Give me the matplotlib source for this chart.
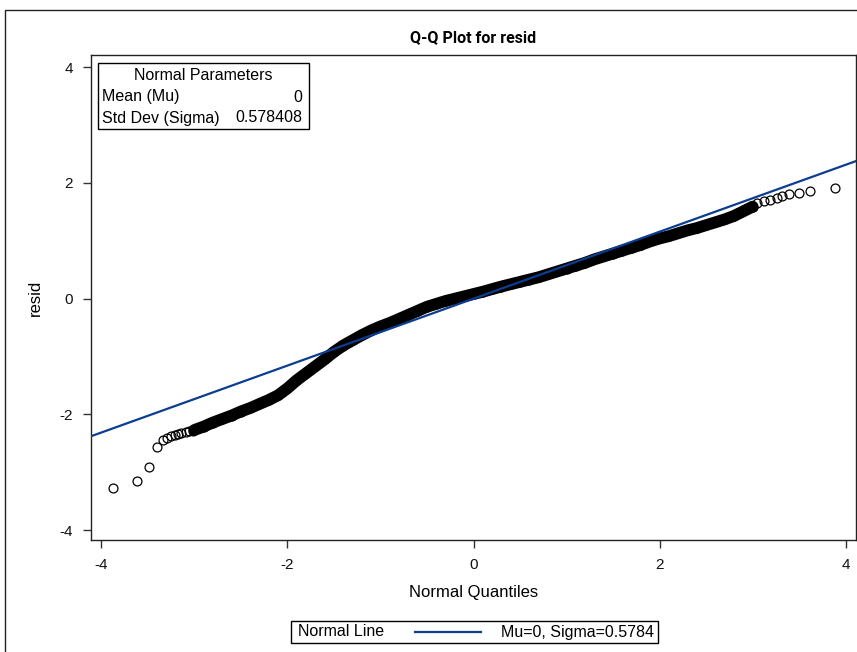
import matplotlib
matplotlib.use("Agg")
import matplotlib.pyplot as plt
from matplotlib.patches import Rectangle
from matplotlib.lines import Line2D

plt.rcParams['font.family'] = ['Liberation Sans', 'DejaVu Sans']

# ---------------- data ----------------
title = "Q-Q Plot for resid"
x_label = "Normal Quantiles"
y_label = "resid"
mu = 0
sigma = 0.578408
x_ticks = [-4, -2, 0, 2, 4]
y_ticks = [-4, -2, 0, 2, 4]

# sparse lower-tail points
lower_q = [-3.87, -3.62, -3.49, -3.40, -3.34, -3.29, -3.25, -3.21, -3.17, -3.14, -3.09, -3.06, -3.01]
lower_r = [-3.27, -3.15, -2.91, -2.56, -2.45, -2.40, -2.38, -2.36, -2.34, -2.32, -2.30, -2.29, -2.28]

# dense central band (normal quantile, residual)
band_q = [-3.0, -2.9, -2.8, -2.7, -2.6, -2.5, -2.4, -2.3, -2.2, -2.1,
          -2.0, -1.9, -1.8, -1.7, -1.6, -1.5, -1.4, -1.3, -1.2, -1.1,
          -1.0, -0.9, -0.8, -0.7, -0.6, -0.5, -0.4, -0.3, -0.2, -0.1,
          0.0, 0.1, 0.2, 0.3, 0.4, 0.5, 0.6, 0.7, 0.8, 0.9,
          1.0, 1.1, 1.2, 1.3, 1.4, 1.5, 1.6, 1.7, 1.8, 1.9,
          2.0, 2.1, 2.2, 2.3, 2.4, 2.5, 2.6, 2.7, 2.8, 2.9, 3.0]
band_r = [-2.27, -2.21, -2.14, -2.08, -2.02, -1.95, -1.89, -1.82, -1.75, -1.67,
          -1.55, -1.41, -1.29, -1.17, -1.05, -0.92, -0.81, -0.72, -0.63, -0.55,
          -0.48, -0.42, -0.35, -0.28, -0.21, -0.14, -0.09, -0.04, 0.00, 0.04,
          0.08, 0.12, 0.165, 0.21, 0.25, 0.29, 0.33, 0.37, 0.42, 0.47,
          0.52, 0.57, 0.62, 0.68, 0.73, 0.78, 0.83, 0.88, 0.93, 0.99,
          1.04, 1.08, 1.13, 1.18, 1.22, 1.27, 1.32, 1.37, 1.43, 1.51, 1.59]

# sparse upper-tail points
upper_q = [3.05, 3.12, 3.19, 3.26, 3.32, 3.39, 3.50, 3.62, 3.88]
upper_r = [1.65, 1.68, 1.71, 1.74, 1.78, 1.81, 1.82, 1.865, 1.91]

# ---------------- layout ----------------
W, H = 857, 652
fig = plt.figure(figsize=(W / 100, H / 100), dpi=100)

def fx(px):
    return px / W

def fy(py):
    return 1 - py / H

ax = fig.add_axes([fx(91), fy(540), fx(856) - fx(91), fy(55) - fy(540)])
ax.set_xlim(-4.11, 4.11)
ax.set_ylim(-4.17, 4.21)

line_color = '#0b3d91'
ax.axline((0, mu), slope=sigma, color=line_color, lw=1.6, zorder=3)

mk = dict(marker='o', mfc='none', mec='black', ms=6.4, mew=0.9, ls='none', zorder=2)
ax.plot(band_q, band_r, color='black', lw=8.5, solid_capstyle='round', zorder=2)
ax.plot(band_q, band_r, **mk)
ax.plot(lower_q, lower_r, **mk)
ax.plot(upper_q, upper_r, **mk)

ax.set_xticks(x_ticks)
ax.set_yticks(y_ticks)
ax.set_xticklabels([str(t) for t in x_ticks])
ax.set_yticklabels([str(t) for t in y_ticks])
ax.tick_params(direction='out', length=6, width=1, colors='#333333', labelsize=11,
               labelcolor='#111111', pad=7)
for s in ax.spines.values():
    s.set_linewidth(1.0)
    s.set_color('#222222')

ax.set_xlabel(x_label, fontsize=12, labelpad=9)
ax.set_ylabel(y_label, fontsize=12, labelpad=12)

fig.text(fx(473), fy(38), title, ha='center', va='center', fontsize=11.5, fontweight='bold',
         family=['Liberation Sans Narrow', 'Roboto', 'Liberation Sans'])

# inset parameter box
fs_box = 11.5
fig.add_artist(Rectangle((fx(97.5), fy(128.5)), fx(309) - fx(97.5), fy(63) - fy(128.5),
                         transform=fig.transFigure, fill=True, facecolor='white',
                         edgecolor='black', lw=1.0, zorder=5))
fig.text(fx(203), fy(76), "Normal Parameters", ha='center', va='center', fontsize=fs_box, zorder=6)
fig.text(fx(102), fy(97), "Mean (Mu)", ha='left', va='center', fontsize=fs_box, zorder=6)
fig.text(fx(302), fy(97), f"{mu}", ha='right', va='center', fontsize=fs_box, zorder=6)
fig.text(fx(102), fy(118), "Std Dev (Sigma)", ha='left', va='center', fontsize=fs_box, zorder=6)
fig.text(fx(302), fy(118), f"{sigma}", ha='right', va='center', fontsize=fs_box, zorder=6)

# bottom legend
fig.add_artist(Rectangle((fx(291), fy(643)), fx(658) - fx(291), fy(621) - fy(643),
                         transform=fig.transFigure, fill=False, edgecolor='black', lw=1.0))
fig.text(fx(298), fy(632), "Normal Line", ha='left', va='center', fontsize=11.5)
fig.add_artist(Line2D([fx(415), fx(481)], [fy(632), fy(632)], transform=fig.transFigure,
                      color=line_color, lw=1.6))
fig.text(fx(654), fy(632), f"Mu={mu}, Sigma={sigma:.4f}", ha='right', va='center', fontsize=11.5)

# outer frame
fig.add_artist(Rectangle((fx(5), fy(H + 20)), fx(W + 20) - fx(5), fy(10) - fy(H + 20),
                         transform=fig.transFigure, fill=False, edgecolor='#222222', lw=1.0))

fig.savefig("out.png", dpi=100)
